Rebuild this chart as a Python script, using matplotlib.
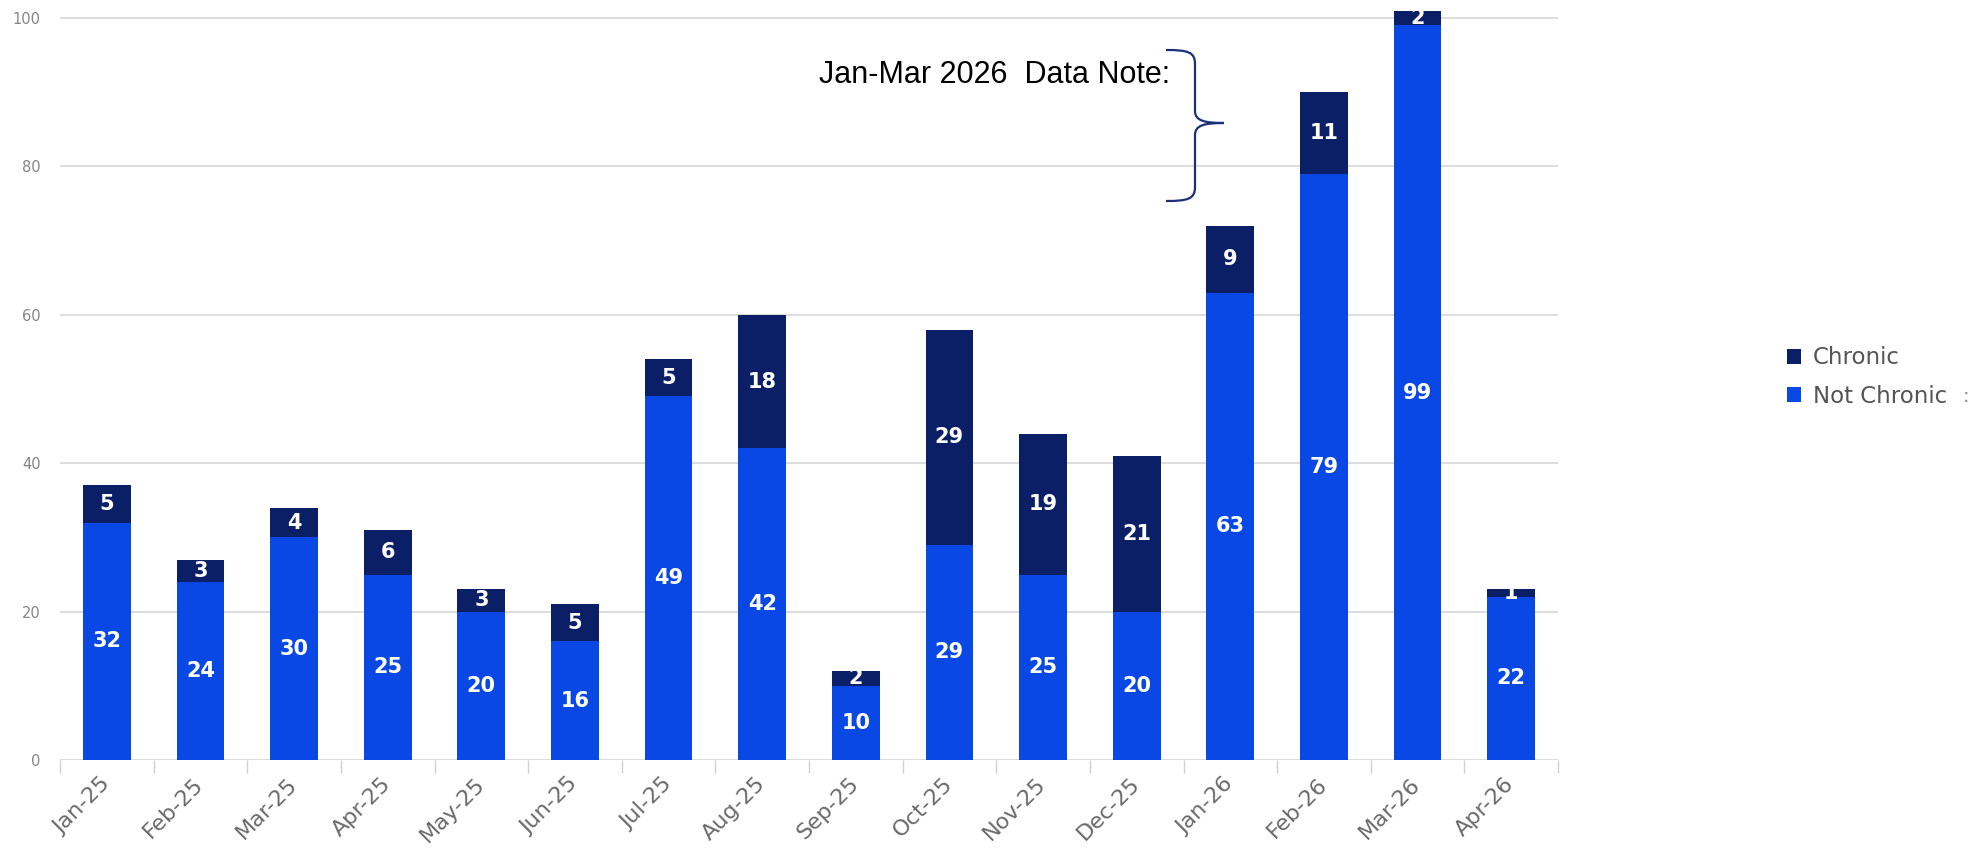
import matplotlib
matplotlib.use("Agg")
import matplotlib.pyplot as plt
from matplotlib.patches import Patch, PathPatch
from matplotlib.path import Path
from matplotlib.transforms import Bbox, TransformedBbox
import numpy as np

months = ["Jan-25", "Feb-25", "Mar-25", "Apr-25", "May-25", "Jun-25", "Jul-25", "Aug-25",
          "Sep-25", "Oct-25", "Nov-25", "Dec-25", "Jan-26", "Feb-26", "Mar-26", "Apr-26"]
not_chronic = [32, 24, 30, 25, 20, 16, 49, 42, 10, 29, 25, 20, 63, 79, 99, 22]
chronic = [5, 3, 4, 6, 3, 5, 5, 18, 2, 29, 19, 21, 9, 11, 2, 1]
y_ticks = [0, 20, 40, 60, 80, 100]
note_text = "Jan-Mar 2026  Data Note:"

C_NOT = "#0948E4"
C_CHR = "#0A1F66"
FONT = "DejaVu Sans"

W, H = 1970, 849
fig = plt.figure(figsize=(W / 100, H / 100), dpi=100)
fig.patch.set_facecolor("white")

ax_left, ax_right, ax_bottom, ax_top = 60, 1558, 760, 10.6
ax = fig.add_axes([ax_left / W, (H - ax_bottom) / H, (ax_right - ax_left) / W, (ax_bottom - ax_top) / H])

x = np.arange(len(months))
bw = 0.51
ax.bar(x, not_chronic, width=bw, color=C_NOT, zorder=3)
ax.bar(x, chronic, width=bw, bottom=not_chronic, color=C_CHR, zorder=3)

ax.set_xlim(-0.5, len(months) - 0.5)
ax.set_ylim(0, 101)
ax.set_yticks(y_ticks)
ax.yaxis.grid(True, color="#dadada", linewidth=1.3, zorder=0)
ax.set_axisbelow(True)
for s in ax.spines.values():
    s.set_visible(False)

ax.tick_params(axis="y", length=0, pad=14, labelsize=10.5, labelcolor="#858585")
ax.set_yticklabels([str(v) for v in y_ticks], family=FONT)

ax.set_xticks(x)
ax.set_xticklabels(months, rotation=45, ha="right", va="center", rotation_mode="anchor",
                   family=FONT, fontsize=16, color="#6a6a6a")
ax.tick_params(axis="x", which="major", length=0, pad=15)
ax.set_xticks(np.arange(-0.5, len(months), 1.0), minor=True)
ax.tick_params(axis="x", which="minor", length=9, width=1, color="#d0d0d0")

# value labels
for i in range(len(months)):
    x0, x1 = i - bw / 2, i + bw / 2
    total = not_chronic[i] + chronic[i]
    clip = TransformedBbox(Bbox([[x0, -5], [x1, total]]), ax.transData)
    t1 = ax.text(i, not_chronic[i] / 2, str(not_chronic[i]), ha="center", va="center",
                 color="white", fontsize=15, family=FONT, fontweight="bold", zorder=4)
    t2 = ax.text(i, not_chronic[i] + chronic[i] / 2, str(chronic[i]), ha="center", va="center",
                 color="white", fontsize=15, family=FONT, fontweight="bold", zorder=4)
    for t in (t1, t2):
        t.set_clip_on(True)
        t.set_clip_box(clip)
        t.set_clip_path(None)

# legend
handles = [Patch(facecolor=C_CHR, edgecolor="none", label="Chronic"),
           Patch(facecolor=C_NOT, edgecolor="none", label="Not Chronic")]
leg = fig.legend(handles=handles, loc="center left", bbox_to_anchor=(1787 / W, 1 - 377 / H),
                 frameon=False, prop={"family": FONT, "size": 16.5},
                 handlelength=0.62, handleheight=0.62, handletextpad=0.5,
                 labelspacing=0.68, borderpad=0, borderaxespad=0)
for t in leg.get_texts():
    t.set_color("#555555")
fig.text(1963 / W, 1 - 396 / H, ":", fontsize=14, color="#8a8a8a", ha="left", va="center")

# annotation with brace
ov = fig.add_axes([0, 0, 1, 1], zorder=10)
ov.set_xlim(0, W)
ov.set_ylim(H, 0)
ov.axis("off")
ov.patch.set_alpha(0)
ov.text(819, 75, note_text, fontsize=22, family="Liberation Sans", color="black",
        ha="left", va="center")
xv, xh, xt = 1195, 1166, 1224
yt, ym, yb = 50, 123, 201
verts = [(xh, yt), (1188, yt), (xv, yt + 2), (xv, yt + 14),
         (xv, ym - 12),
         (xv, ym - 2), (1205, ym), (xt, ym),
         (1205, ym), (xv, ym + 2), (xv, ym + 12),
         (xv, yb - 14),
         (xv, yb - 2), (1188, yb), (xh, yb)]
codes = [Path.MOVETO, Path.CURVE4, Path.CURVE4, Path.CURVE4,
         Path.LINETO,
         Path.CURVE4, Path.CURVE4, Path.CURVE4,
         Path.CURVE4, Path.CURVE4, Path.CURVE4,
         Path.LINETO,
         Path.CURVE4, Path.CURVE4, Path.CURVE4]
ov.add_patch(PathPatch(Path(verts, codes), facecolor="none", edgecolor="#1b2f78", linewidth=1.6))

fig.savefig("out.png", dpi=100, facecolor="white")
